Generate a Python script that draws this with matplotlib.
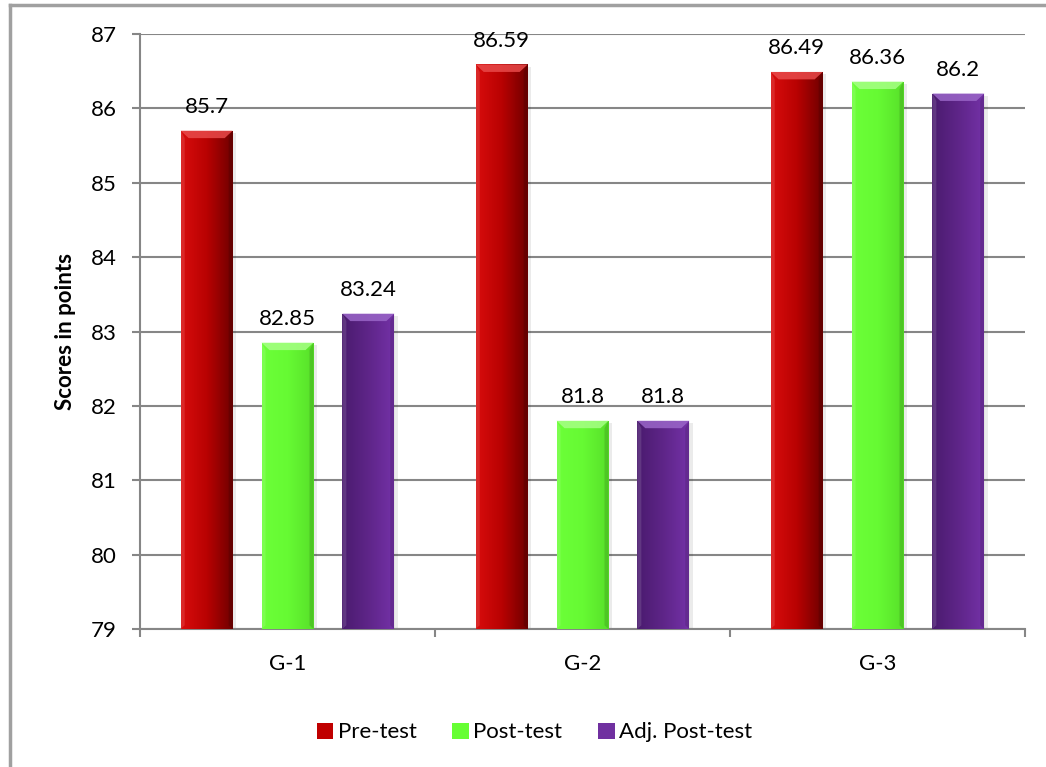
import matplotlib
matplotlib.use("Agg")
import matplotlib.pyplot as plt
import numpy as np
from matplotlib.colors import LinearSegmentedColormap
from matplotlib.patches import Rectangle, Polygon

plt.rcParams['font.family'] = ['Lato', 'DejaVu Sans']

# scores per group
groups = ['G-1', 'G-2', 'G-3']
series = ['Pre-test', 'Post-test', 'Adj. Post-test']
pre_test = [85.7, 86.59, 86.49]
post_test = [82.85, 81.8, 86.36]
adj_post_test = [83.24, 81.8, 86.2]
values = [pre_test, post_test, adj_post_test]
labels = [['85.7', '86.59', '86.49'],
          ['82.85', '81.8', '86.36'],
          ['83.24', '81.8', '86.2']]

# left -> right shading of each series, plus the lighter bevel on top
shades = [['#d80c0c', '#b80202', '#700000'],
          ['#6cff38', '#66fa33', '#58e02a'],
          ['#4a1b6e', '#5e2588', '#7331a6']]
bevels = ['#e84a4a', '#a6ff85', '#9a66c8']
legend_colors = ['#c00000', '#66ff33', '#7030a0']

fig = plt.figure(figsize=(10.46, 7.67), dpi=100)
ax = fig.add_axes([140 / 1046, 138 / 767, 885 / 1046, 595 / 767])

ymin, ymax = 79, 87
ax.set_ylim(ymin, ymax)
ax.set_xlim(-0.5, 2.5)

x = np.arange(len(groups))
width = 0.176
offsets = [-0.274, 0.0, 0.274]

ax.set_axisbelow(True)
ax.yaxis.grid(True, color='#868686', linewidth=1.5)

grad = np.linspace(0, 1, 64).reshape(1, -1)
bev_h = 0.1
bev_w = 0.027
for i in range(3):
    cmap = LinearSegmentedColormap.from_list('s%d' % i, shades[i])
    bars = ax.bar(x + offsets[i], values[i], width, bottom=0, color='none', zorder=2)
    for b, v, lab in zip(bars, values[i], labels[i]):
        x0 = b.get_x()
        x1 = x0 + b.get_width()
        # soft shadow on the right side
        ax.add_patch(Rectangle((x1, ymin), 0.012, v - ymin - 0.03, color='#000000',
                               alpha=0.08, lw=0, zorder=2))
        im = ax.imshow(grad, cmap=cmap, extent=[x0, x1, ymin, v], aspect='auto',
                       zorder=3, interpolation='bilinear')
        im.set_clip_path(b)
        # bevelled top edge
        ax.add_patch(Polygon([(x0, v), (x1, v), (x1 - bev_w, v - bev_h), (x0 + bev_w, v - bev_h)],
                             closed=True, color=bevels[i], lw=0, alpha=0.85, zorder=4))
        ax.add_patch(Polygon([(x1, v), (x1, ymin), (x1 - bev_w * 0.5, ymin + bev_h * 0.5),
                              (x1 - bev_w * 0.5, v - bev_h)],
                             closed=True, color='#000000', lw=0, alpha=0.12, zorder=4))
        ax.add_patch(Polygon([(x0, v), (x0, ymin), (x0 + bev_w * 0.5, ymin + bev_h * 0.5),
                              (x0 + bev_w * 0.5, v - bev_h)],
                             closed=True, color='#ffffff', lw=0, alpha=0.12, zorder=4))
        ax.annotate(lab, (x0 + width / 2, v), xytext=(0, 10), textcoords='offset points',
                    ha='center', va='bottom', fontsize=16, color='#000000', zorder=5)

ax.set_xticks([-0.5, 0.5, 1.5, 2.5])
ax.set_xticklabels([])
ax.set_xticks(x, minor=True)
ax.set_xticklabels(groups, minor=True, fontsize=16)
ax.tick_params(axis='x', which='minor', length=0, pad=18)
ax.tick_params(axis='x', which='major', length=6, width=1.5, color='#868686', direction='out')
ax.set_yticks(range(79, 88))
ax.tick_params(axis='y', length=6, width=1.5, color='#868686', labelsize=16, pad=11)

for side in ['top', 'right']:
    ax.spines[side].set_visible(False)
for side in ['left', 'bottom']:
    ax.spines[side].set_color('#868686')
    ax.spines[side].set_linewidth(1.5)

ax.set_ylabel('Scores in points', fontsize=16, fontweight='bold', labelpad=10)

handles = [Rectangle((0, 0), 1, 1, facecolor=c, edgecolor='none') for c in legend_colors]
fig.legend(handles, series, loc='center', bbox_to_anchor=(0.511, 0.045), ncol=3,
           frameon=False, fontsize=16, handlelength=0.75, handleheight=0.75,
           handletextpad=0.2, columnspacing=1.6)

# chart frame
fig.add_artist(plt.Line2D([10 / 1046, 10 / 1046], [0, 762 / 767], transform=fig.transFigure,
                          color='#a0a0a0', lw=2.5))
fig.add_artist(plt.Line2D([10 / 1046, 1], [762 / 767, 762 / 767], transform=fig.transFigure,
                          color='#a0a0a0', lw=2.5))

fig.savefig('out.png', dpi=100)
